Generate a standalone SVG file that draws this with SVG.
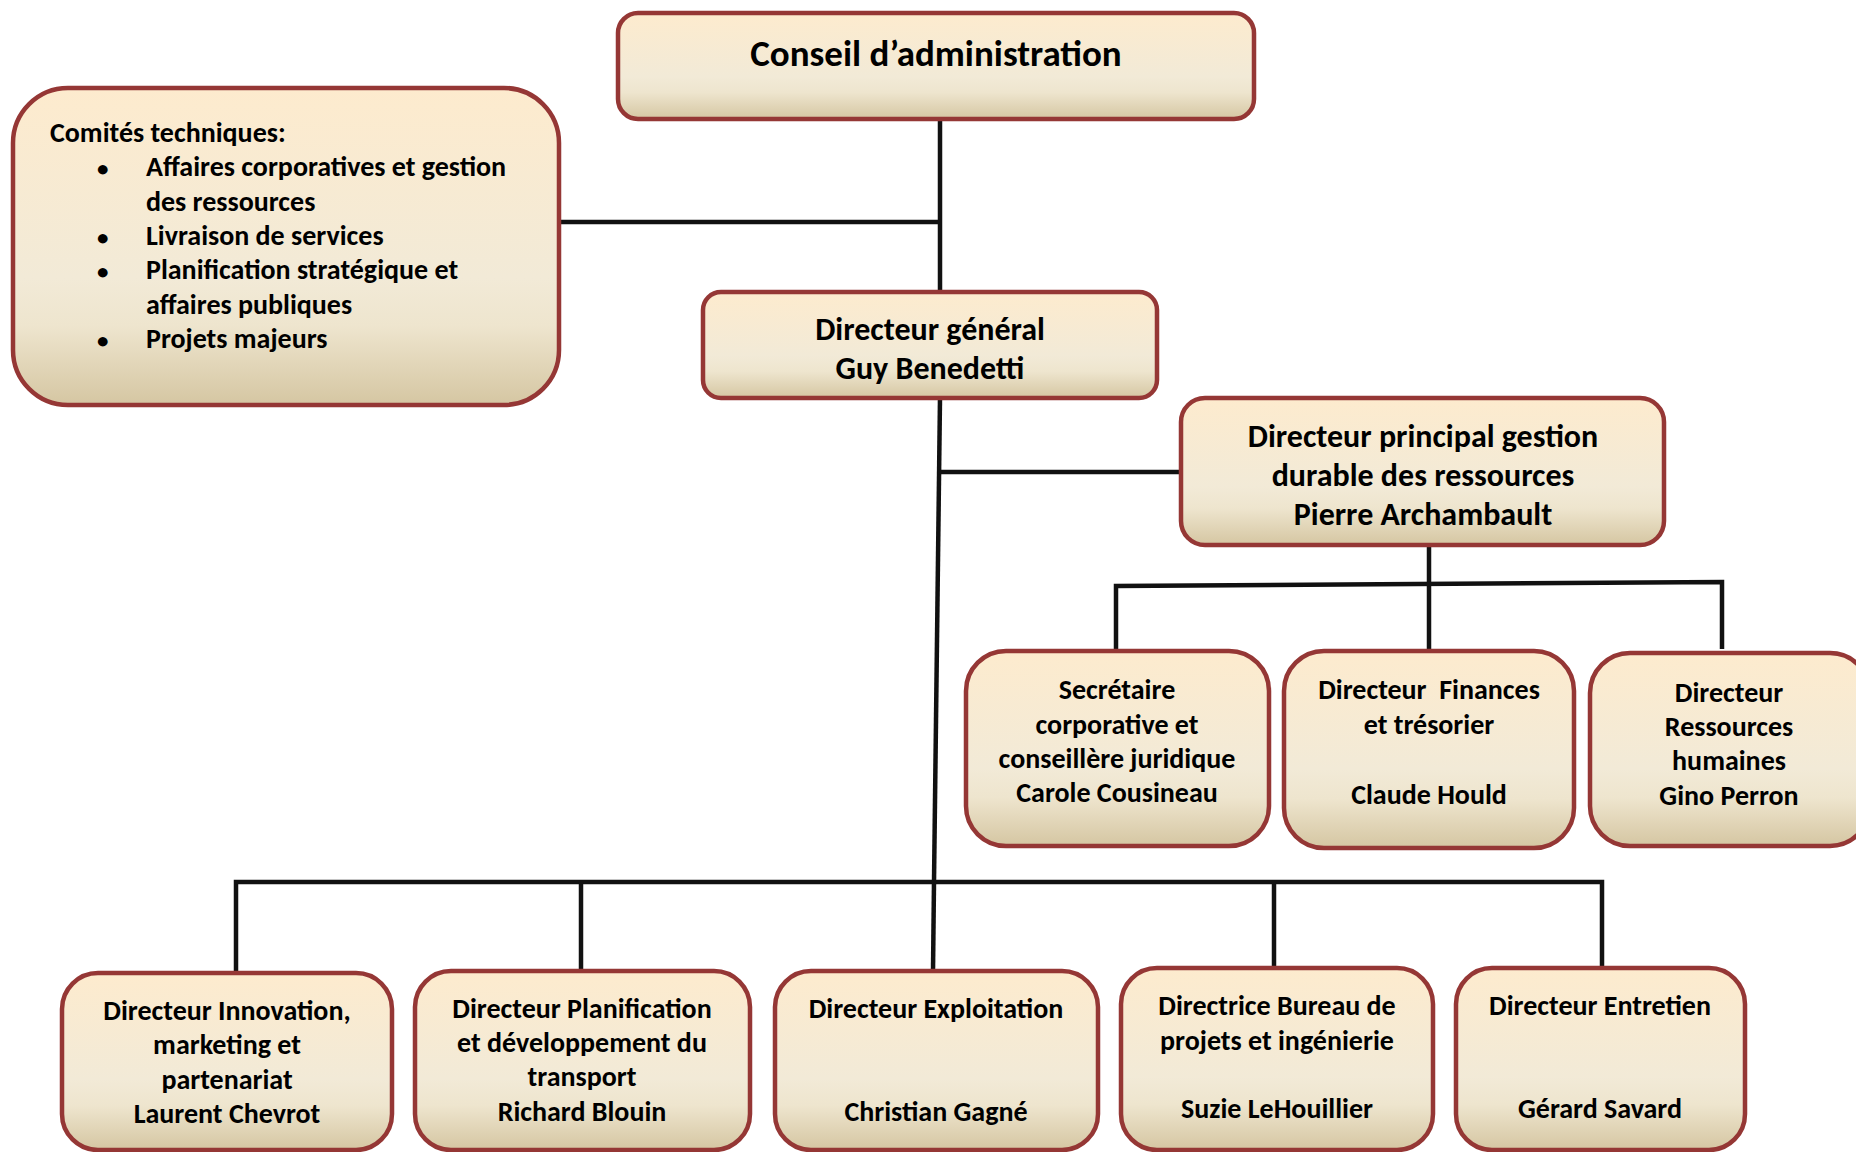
<svg xmlns="http://www.w3.org/2000/svg" width="1856" height="1152" viewBox="0 0 1856 1152">
<defs>
<linearGradient id="g" x1="0" y1="0" x2="0" y2="1">
<stop offset="0" stop-color="#FDEBCE"/>
<stop offset="0.6" stop-color="#F2EAD7"/>
<stop offset="0.75" stop-color="#EEE5CE"/>
<stop offset="1" stop-color="#D5C6A2"/>
</linearGradient>
<style>
.box{fill:url(#g);stroke:#953735;stroke-width:4.5}
.t{font-family:Carlito,Lato,"Liberation Sans",sans-serif;font-weight:700;fill:#000;font-size:28px;text-anchor:middle}
.l{text-anchor:start}
.b{font-size:23px}
.big{font-size:32px}
.huge{font-size:37px}
.c{fill:none;stroke:#111;stroke-width:4.5}
</style>
</defs>
<rect width="1856" height="1152" fill="#fff"/>
<g id="connectors">
<path class="c" d="M940 120 V291"/>
<path class="c" d="M559 222 H940"/>
<path class="c" d="M940 398 L934 882"/>
<path class="c" d="M938 472 H1181"/>
<path class="c" d="M1429 545 V651"/>
<path class="c" d="M1116 651 V586 L1722 582 V649"/>
<path class="c" d="M236 973 V882 H1602 V973"/>
<path class="c" d="M581 882 V971"/>
<path class="c" d="M934 882 L933 971"/>
<path class="c" d="M1274 882 V968"/>
</g>
<g id="conseil">
<rect class="box" x="618" y="13" width="636" height="106" rx="20"/>
<text class="t huge" x="936" y="66">Conseil d’administration</text>
</g>
<g id="comites">
<rect class="box" x="13" y="88" width="546" height="317" rx="55"/>
<text class="t l" x="50" y="142">Comités techniques:</text>
<text class="t l b" x="97" y="176">•</text>
<text class="t l" x="146" y="176">Affaires corporatives et gestion</text>
<text class="t l" x="146" y="211">des ressources</text>
<text class="t l b" x="97" y="245">•</text>
<text class="t l" x="146" y="245">Livraison de services</text>
<text class="t l b" x="97" y="279">•</text>
<text class="t l" x="146" y="279">Planification stratégique et</text>
<text class="t l" x="146" y="314">affaires publiques</text>
<text class="t l b" x="97" y="348">•</text>
<text class="t l" x="146" y="348">Projets majeurs</text>
</g>
<g id="dg">
<rect class="box" x="703" y="292" width="454" height="106" rx="18"/>
<text class="t big" x="930" y="340">Directeur général</text>
<text class="t big" x="930" y="379">Guy Benedetti</text>
</g>
<g id="dp">
<rect class="box" x="1181" y="398" width="483" height="147" rx="24"/>
<text class="t big" x="1423" y="447">Directeur principal gestion</text>
<text class="t big" x="1423" y="486">durable des ressources</text>
<text class="t big" x="1423" y="525">Pierre Archambault</text>
</g>
<g id="secretaire">
<rect class="box" x="966" y="651" width="303" height="195" rx="40"/>
<text class="t" x="1117" y="699">Secrétaire</text>
<text class="t" x="1117" y="734">corporative et</text>
<text class="t" x="1117" y="768">conseillère juridique</text>
<text class="t" x="1117" y="802">Carole Cousineau</text>
</g>
<g id="finances">
<rect class="box" x="1284" y="651" width="290" height="197" rx="40"/>
<text class="t" x="1429" y="699" xml:space="preserve">Directeur  Finances</text>
<text class="t" x="1429" y="734">et trésorier</text>
<text class="t" x="1429" y="804">Claude Hould</text>
</g>
<g id="rh">
<rect class="box" x="1590" y="653" width="280" height="193" rx="40"/>
<text class="t" x="1729" y="702">Directeur</text>
<text class="t" x="1729" y="736">Ressources</text>
<text class="t" x="1729" y="770">humaines</text>
<text class="t" x="1729" y="805">Gino Perron</text>
</g>
<g id="innovation">
<rect class="box" x="62" y="973" width="330" height="177" rx="36"/>
<text class="t" x="227" y="1020">Directeur Innovation,</text>
<text class="t" x="227" y="1054">marketing et</text>
<text class="t" x="227" y="1089">partenariat</text>
<text class="t" x="227" y="1123">Laurent Chevrot</text>
</g>
<g id="planification">
<rect class="box" x="415" y="971" width="335" height="179" rx="36"/>
<text class="t" x="582" y="1018">Directeur Planification</text>
<text class="t" x="582" y="1052">et développement du</text>
<text class="t" x="582" y="1086">transport</text>
<text class="t" x="582" y="1121">Richard Blouin</text>
</g>
<g id="exploitation">
<rect class="box" x="775" y="971" width="323" height="179" rx="36"/>
<text class="t" x="936" y="1018">Directeur Exploitation</text>
<text class="t" x="936" y="1121">Christian Gagné</text>
</g>
<g id="bureau">
<rect class="box" x="1121" y="968" width="312" height="182" rx="36"/>
<text class="t" x="1277" y="1015">Directrice Bureau de</text>
<text class="t" x="1277" y="1050">projets et ingénierie</text>
<text class="t" x="1277" y="1118">Suzie LeHouillier</text>
</g>
<g id="entretien">
<rect class="box" x="1456" y="968" width="289" height="182" rx="36"/>
<text class="t" x="1600" y="1015">Directeur Entretien</text>
<text class="t" x="1600" y="1118">Gérard Savard</text>
</g>
</svg>
